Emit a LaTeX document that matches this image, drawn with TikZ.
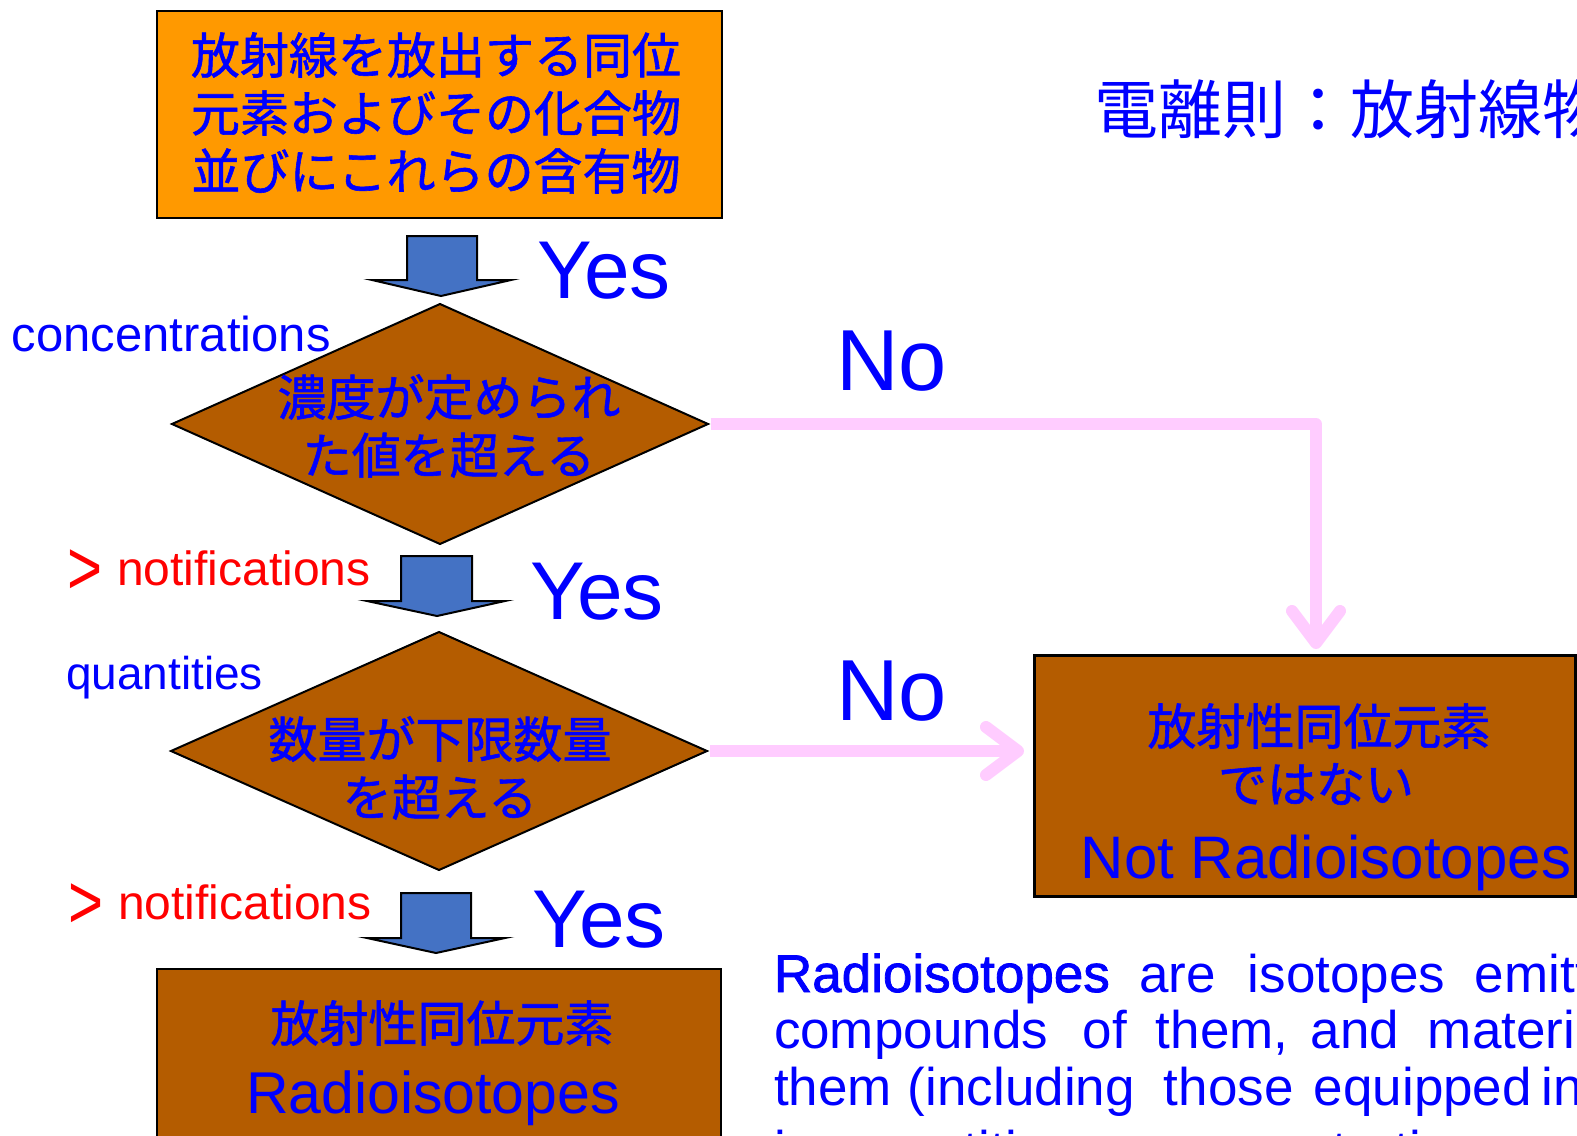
\documentclass[tikz,border=0pt]{standalone}
\usepackage{fontspec}
\usepackage{graphicx}
\setmainfont{Liberation Sans}
\newfontfamily\jp[FakeBold=1.2]{Noto Sans CJK JP}
\newfontfamily\jpl{Noto Sans CJK JP}
\newfontfamily\lsb[FakeBold=1.5]{Liberation Sans}
\usetikzlibrary{shapes.geometric,arrows.meta}
\definecolor{orng}{RGB}{255,153,0}
\definecolor{brwn}{RGB}{180,92,0}
\definecolor{barrow}{RGB}{68,114,196}
\definecolor{pinkln}{RGB}{255,204,255}
\definecolor{txtblue}{RGB}{0,0,255}
\definecolor{txtred}{RGB}{255,0,0}
\newcommand\fsz[2]{\fontsize{#1}{#2}\selectfont}
\newcommand\gtmark{\makebox[37.5pt][l]{\raisebox{-6.75pt}{\scalebox{1.25}[1.6]{>}}}}
\begin{document}
\begin{tikzpicture}[x=0.75pt,y=-0.75pt,
  box/.style={draw=black,line width=1.5pt,inner sep=0pt,outer sep=0pt},
  dia/.style={diamond,draw=black,line width=1.5pt,fill=brwn,inner sep=0pt,outer sep=0pt},
  blk/.style={draw=black,line width=1.5pt,fill=barrow,line join=miter},
  pinkarr/.style={draw=pinkln,line width=9pt,line join=round,shorten <=2pt,
    -{Straight Barb[length=24pt,width=36pt,line cap=round,line join=round]}},
  lbl/.style={inner sep=0pt,outer sep=0pt,text=txtblue},
  jpmid/.style={lbl,align=center,font=\jp\fsz{36.75pt}{43.5pt}},
  yesno/.style={lbl,anchor=base west,font=\fsz{61.5pt}{62pt}},
  nolbl/.style={lbl,anchor=base west,font=\fsz{65pt}{65pt}},
  small/.style={lbl,anchor=base west,font=\fsz{36.75pt}{37pt}},
  redl/.style={small,font=\fsz{36pt}{36pt},text=txtred},
  para/.style={lbl,anchor=base west,font=\fsz{39.75pt}{40pt}},
]
\useasboundingbox (0,0) rectangle (1577,1135);
\clip (0,0) rectangle (1577,1135);

% boxes
\node[box,fill=orng,minimum width=423.75pt,minimum height=155.25pt] (top) at (439.5,114.5) {};
\node[jpmid] (toptxt) at (436,113) {放射線を放出する同位\\元素およびその化合物\\並びにこれらの含有物};

\node[dia,minimum width=402pt,minimum height=180pt] (d1) at (440,424) {};
\node[jpmid] (d1txt) at (449,426) {濃度が定められ\\た値を超える};

\node[dia,minimum width=402pt,minimum height=178.5pt] (d2) at (439,751) {};
\node[jpmid] (d2txt) at (440,768) {数量が下限数量\\を超える};

\node[box,line width=2.25pt,fill=brwn,minimum width=405.75pt,minimum height=180.75pt] (rb) at (1304.5,775.5) {};
\node[jpmid] (rb1) at (1319,726) {放射性同位元素};
\node[jpmid] (rb2) at (1316,784) {ではない};
\node[lbl,anchor=base,font=\fsz{45pt}{45pt}] (rb3) at (1326,878) {Not Radioisotopes};

\node[box,fill=brwn,minimum width=423pt,minimum height=158.25pt] (bb) at (439,1074.5) {};
\node[jpmid] (bb1) at (442,1023) {放射性同位元素};
\node[lbl,anchor=base,font=\fsz{44.25pt}{45pt}] (bb2) at (433,1113) {Radioisotopes};

% title
\node[lbl,anchor=west,font=\jpl\fsz{48pt}{48pt}] (ttl) at (1094,109) {電離則：放射線物};

% block arrows
\draw[blk] (407,236) -- (477,236) -- (477,280) -- (511,280) -- (441,296) -- (372,280) -- (407,280) -- cycle;
\draw[blk] (401,556) -- (472,556) -- (472,601) -- (505,601) -- (437,616) -- (367,601) -- (401,601) -- cycle;
\draw[blk] (401,893) -- (471,893) -- (471,938) -- (505,938) -- (436,953) -- (367,938) -- (401,938) -- cycle;

% labels
\node[yesno] (y1) at (537,298) {Yes};
\node[yesno] (y2) at (530,619) {Yes};
\node[yesno] (y3) at (532,947) {Yes};
\node[nolbl] (n1) at (836,390) {No};
\node[nolbl] (n2) at (836,720) {No};
\node[small] (conc) at (12,351) {concentrations};
\node[small,font=\fsz{34.5pt}{35pt}] (quant) at (66,689) {quantities};
\node[redl] (nt1) at (67,585) {\gtmark notifications};
\node[redl] (nt2) at (68,919) {\gtmark notifications};

% pink connectors
\coordinate (tip1) at (1316,649);
\coordinate (tip2) at (1024,751);
\draw[pinkarr] (d1.east) -| (tip1);
\draw[pinkarr] (d2.east) -- (tip2);

% paragraph
\node[para] (p1) at (774,992) {\makebox[273.75pt][l]{\lsb Radioisotopes}\makebox[81.75pt][l]{are}\makebox[170.25pt][l]{isotopes}emitting};
\node[para] (p2) at (774,1048) {\makebox[231.75pt][l]{compounds}\makebox[54.75pt][l]{of}\makebox[116.25pt][l]{them,}\makebox[87.75pt][l]{and}materials};
\node[para] (p3) at (774,1105) {\makebox[100.5pt][l]{them}\makebox[192pt][l]{(including}\makebox[112.5pt][l]{those}\makebox[171pt][l]{equipped}in};
\node[para] (p4) at (774,1168) {\makebox[54pt][l]{in}\makebox[186.75pt][l]{quantities}\makebox[50.25pt][l]{or}concentrations};
\end{tikzpicture}
\end{document}
